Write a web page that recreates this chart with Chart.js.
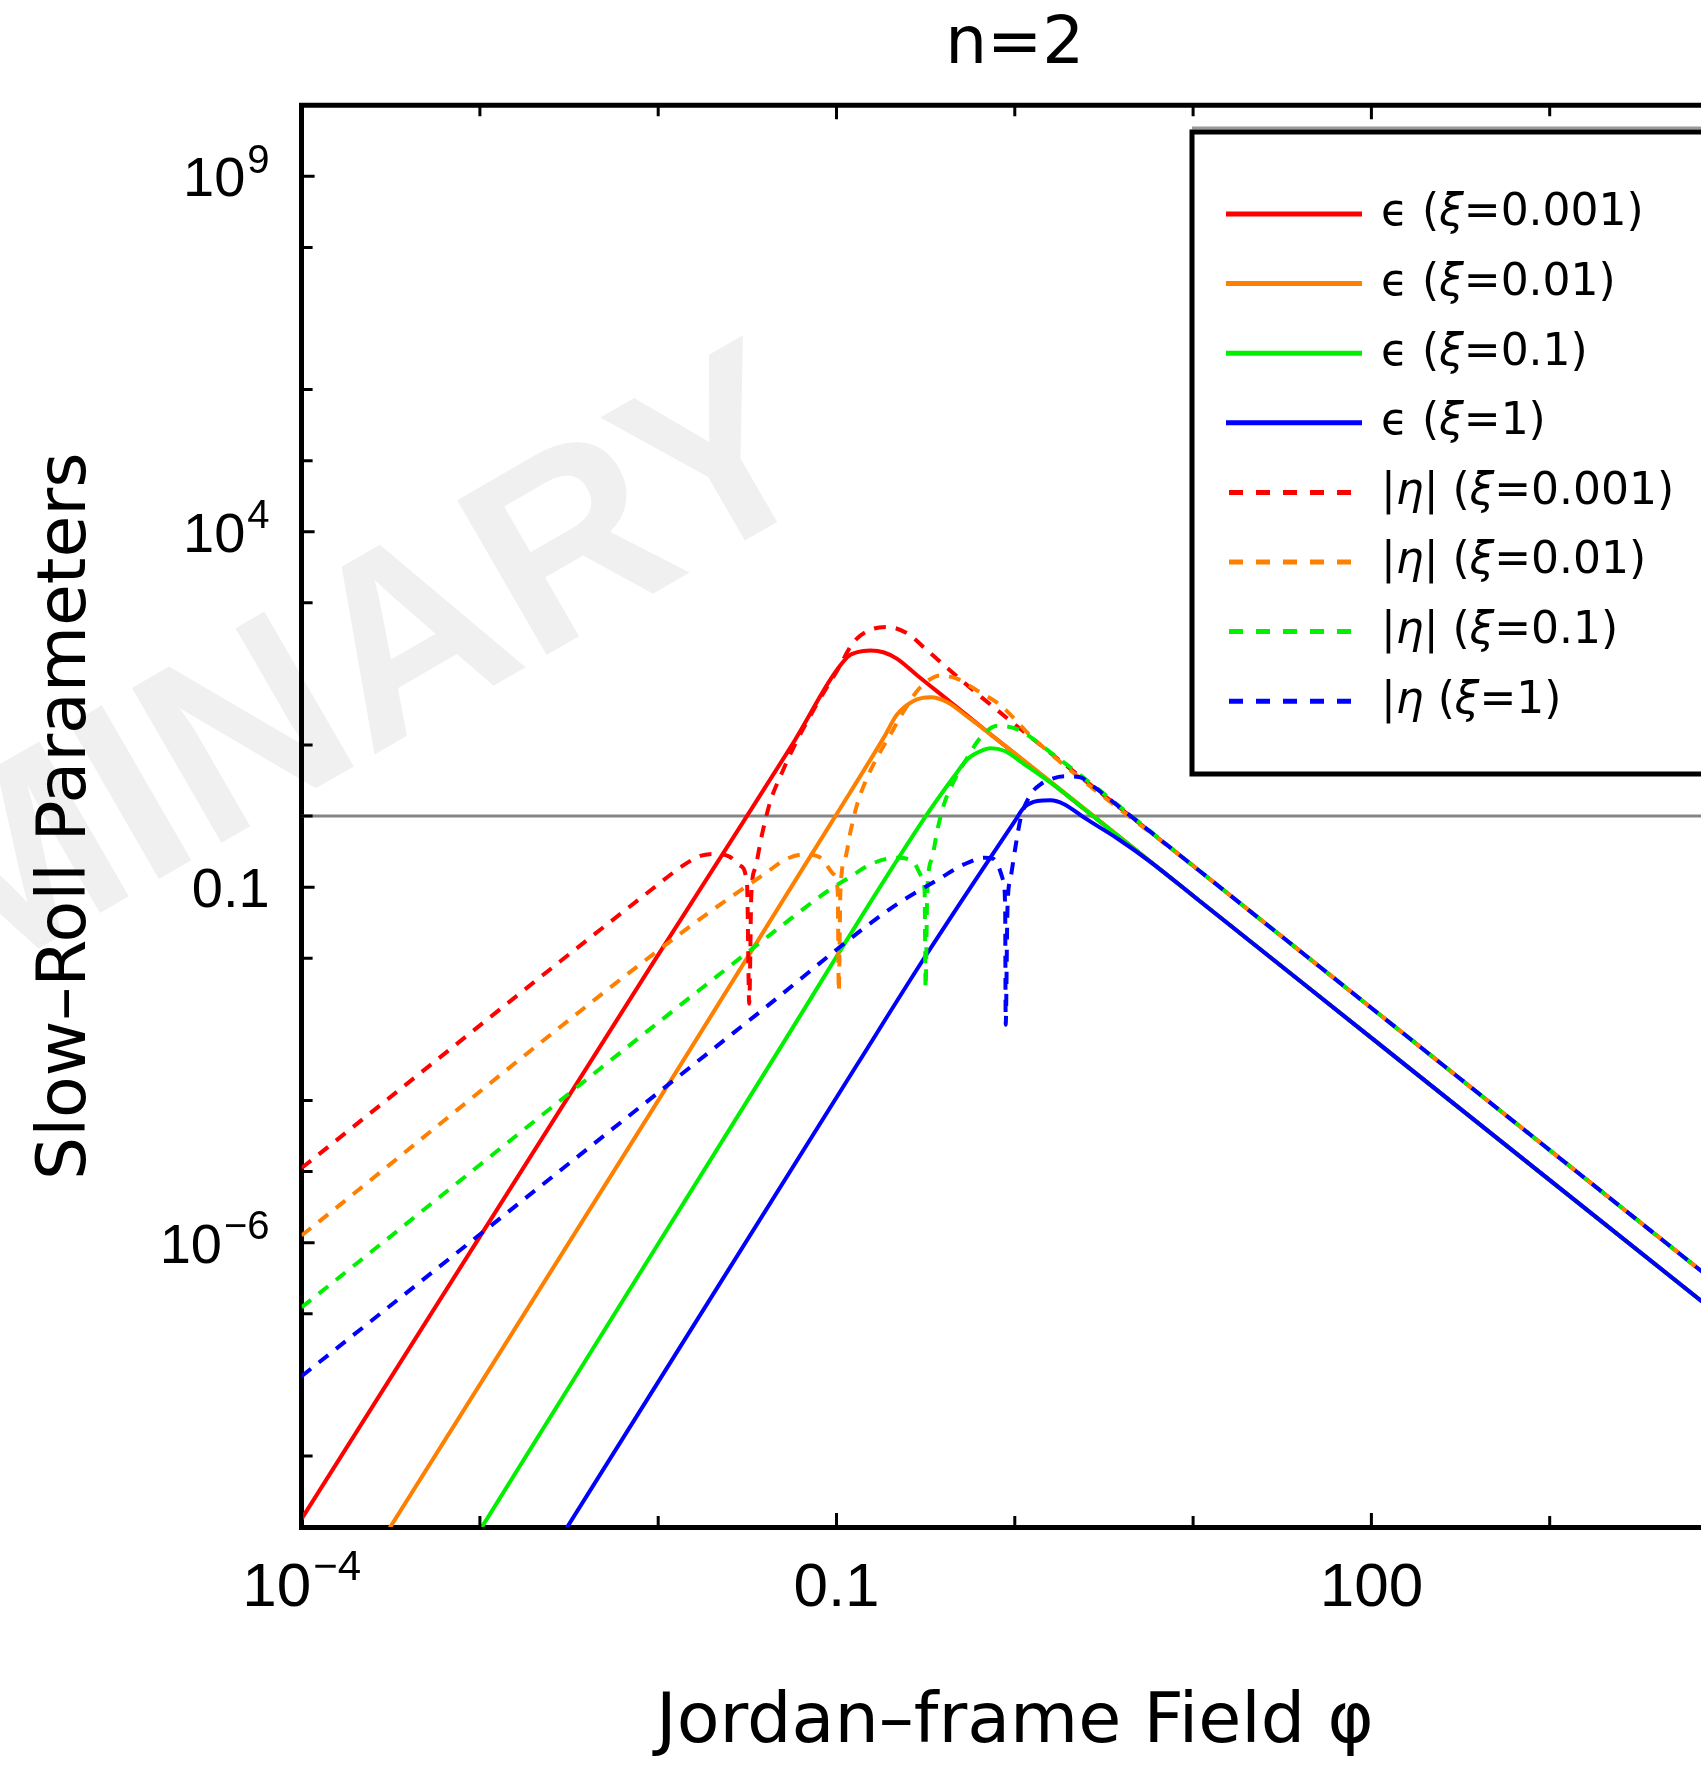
<!DOCTYPE html>
<html><head><meta charset="utf-8">
<style>
html,body{margin:0;padding:0;background:#fff;overflow:hidden;}
#wrap{width:1701px;height:1768px;overflow:hidden;position:relative;background:#fff;}
canvas{display:block;}
</style>
<script src="https://cdn.jsdelivr.net/npm/chart.js@4"></script>
</head><body><div id="wrap"><canvas id="c" width="1740" height="1768" style="width:1740px;height:1768px"></canvas></div>
<script>
// ---------------- data ----------------
// epsilon (solid)
const epsXi0001 = [[1e-4,1.3e-10],[0.0090,7.4e-3],[0.0308,0.92],[0.0551,9.2],[0.115,172],[0.131,202],[0.155,213],[0.185,200],[0.219,163],[0.284,95],[0.437,40],[0.71,15],[10,0.0759],[100,7.59e-4],[1000,7.59e-6],[1e4,7.59e-8]];
const epsXi001  = [[3.0e-4,8.3e-11],[0.01387,3.7e-4],[0.0966,0.92],[0.1845,12.8],[0.219,27],[0.272,42],[0.337,47],[0.419,40],[0.542,25],[0.794,12],[10,0.0759],[100,7.59e-4],[1000,7.59e-6],[1e4,7.59e-8]];
const epsXi01   = [[9.8e-4,8.3e-11],[0.0426,3.3e-4],[0.31,0.92],[0.456,3.6],[0.542,6.3],[0.673,8.6],[0.733,9.0],[0.871,8.3],[1.127,5.4],[1.59,2.95],[2.51,1.2],[10,0.0759],[100,7.59e-4],[1000,7.59e-6],[1e4,7.59e-8]];
const epsXi1    = [[2.95e-3,8.3e-11],[0.1306,3.2e-4],[0.31,0.01],[1.0,0.85],[1.127,1.32],[1.34,1.63],[1.59,1.67],[1.89,1.47],[2.45,0.95],[3.78,0.48],[5.81,0.224],[10,0.0759],[100,7.59e-4],[1000,7.59e-6],[1e4,7.59e-8]];
// |eta| (dashed)
const etaXi0001 = [[1e-4,1.12e-5],[0.0090,0.089],[0.0141,0.209],[0.0172,0.275],[0.0209,0.295],[0.0251,0.269],[0.0289,0.20],[0.0315,0.11],[0.0324,2.3e-3],[0.0333,0.079],[0.0351,0.19],[0.0382,0.55],[0.0426,1.62],[0.0495,4.1],[0.0575,9.3],[0.0778,38],[0.101,112],[0.125,282],[0.155,417],[0.193,457],[0.249,372],[0.323,214],[0.437,110],[0.631,50],[10,0.2],[100,2.0e-3],[1000,2.0e-5],[1e4,2.0e-7]];
const etaXi001  = [[1e-4,1.26e-6],[0.0151,0.0282],[0.0391,0.151],[0.0528,0.251],[0.0655,0.288],[0.0794,0.269],[0.0849,0.233],[0.0966,0.151],[0.1016,0.088],[0.103,3.4e-3],[0.1052,0.088],[0.1122,0.259],[0.12,0.617],[0.1306,1.47],[0.1486,3.48],[0.169,6.67],[0.201,14.2],[0.239,30.3],[0.284,58],[0.337,85],[0.384,95],[0.477,85],[0.617,58],[0.834,36],[1.26,12.6],[10,0.2],[100,2.0e-3],[1000,2.0e-5],[1e4,2.0e-7]];
const etaXi01   = [[1e-4,1.23e-7],[0.0506,0.0302],[0.0885,0.087],[0.12,0.141],[0.155,0.209],[0.201,0.257],[0.219,0.26],[0.272,0.22],[0.303,0.135],[0.312,0.088],[0.316,3.8e-3],[0.323,0.088],[0.344,0.259],[0.367,0.617],[0.401,1.47],[0.456,3.13],[0.542,6.67],[0.644,12.8],[0.8,18.6],[1.035,16.6],[1.585,7.9],[10,0.2],[100,2.0e-3],[1000,2.0e-5],[1e4,2.0e-7]];
const etaXi1    = [[1e-4,1.32e-8],[0.0374,1.78e-3],[0.201,0.050],[0.384,0.135],[0.519,0.209],[0.673,0.259],[0.759,0.25],[0.8,0.209],[0.863,0.122],[0.883,0.0513],[0.889,1.16e-3],[0.910,0.0513],[0.948,0.135],[1.014,0.40],[1.081,0.95],[1.23,2.03],[1.40,2.81],[1.59,3.30],[1.905,3.63],[2.29,3.55],[2.82,2.51],[3.98,1.26],[10,0.2],[100,2.0e-3],[1000,2.0e-5],[1e4,2.0e-7]];
// end-of-inflation reference line
const unitLine = [[1e-4,1],[1e4,1]];

const seriesLabels = ['ϵ (ξ=0.001)','ϵ (ξ=0.01)','ϵ (ξ=0.1)','ϵ (ξ=1)','|η| (ξ=0.001)','|η| (ξ=0.01)','|η| (ξ=0.1)','|η (ξ=1)'];

// ticks
const xTickValues = [1e-4,1e-3,1e-2,0.1,1,10,100,1e3,1e4];
const xTickLabels = [[1e-4,'10','−4'],[0.1,'0.1',''],[100,'100','']];
const yTickValues = [1e10,1e9,1e8,1e6,1e5,1e4,1e3,10,1,0.1,1e-2,1e-4,1e-5,1e-6,1e-7,1e-9,1e-10];
const yTickLabels = [[1e9,'10','9'],[1e4,'10','4'],[0.1,'0.1',''],[1e-6,'10','−6']];

// ---------------- styling ----------------
const RED='#ff0000', ORANGE='#ff8000', GREEN='#00f000', BLUE='#0000ff';
const pts = a => a.map(p => ({x:p[0], y:p[1]}));
function ds(label, arr, color, dashed, layer){
  return {label, data:pts(arr), borderColor:color, backgroundColor:color, borderWidth:4,
    borderDash: dashed ? [12,10] : [], showLine:true, pointRadius:0, fill:false,
    cubicInterpolationMode:'monotone', inLegend:true, dashedLegend:dashed, order:layer};
}
// lower "order" is painted on top: later legend entries lie over earlier ones
const datasets = [
  {label:'ϵ = 1', data:pts(unitLine), borderColor:'#858585', borderWidth:3, showLine:true, pointRadius:0, inLegend:false, order:20},
  ds(seriesLabels[0], epsXi0001, RED, false, 8),
  ds(seriesLabels[1], epsXi001, ORANGE, false, 7),
  ds(seriesLabels[2], epsXi01, GREEN, false, 6),
  ds(seriesLabels[3], epsXi1, BLUE, false, 5),
  ds(seriesLabels[4], etaXi0001, RED, true, 4),
  ds(seriesLabels[5], etaXi001, ORANGE, true, 3),
  ds(seriesLabels[6], etaXi01, GREEN, true, 2),
  ds(seriesLabels[7], etaXi1, BLUE, true, 1)
];

const watermark = {
  id:'watermark',
  beforeDraw(chart){
    const ctx = chart.ctx;
    ctx.save();
    ctx.translate(836, 488);
    ctx.rotate(-30*Math.PI/180);
    ctx.font = 'bold 260px "Liberation Sans", Arial, sans-serif';
    ctx.fillStyle = '#f0f0f0';
    ctx.textAlign = 'right';
    ctx.textBaseline = 'alphabetic';
    ctx.fillText('PRELIMINARY', 0, 0);
    ctx.restore();
  }
};

function drawPowerLabel(ctx, base, exp, x, y, align, baseSize, expSize){
  ctx.font = baseSize + 'px "Liberation Sans", Arial, sans-serif';
  const wb = ctx.measureText(base).width;
  ctx.font = expSize + 'px "Liberation Sans", Arial, sans-serif';
  const we = exp ? ctx.measureText(exp).width + 2 : 0;
  const total = wb + we;
  let x0 = align === 'right' ? x - total : (align === 'center' ? x - total/2 : x);
  const baseline = y + baseSize*0.716/2;
  ctx.textAlign = 'left'; ctx.textBaseline = 'alphabetic';
  ctx.font = baseSize + 'px "Liberation Sans", Arial, sans-serif';
  ctx.fillText(base, x0, baseline);
  if (exp){
    ctx.font = expSize + 'px "Liberation Sans", Arial, sans-serif';
    ctx.fillText(exp, x0 + wb + 2, baseline - baseSize*0.42);
  }
}

const frameTicks = {
  id:'frameTicks',
  afterDatasetsDraw(chart){
    const {ctx, chartArea:a, scales:{x, y}} = chart;
    ctx.save();
    ctx.strokeStyle = '#000';
    ctx.lineWidth = 5;
    ctx.beginPath();
    ctx.moveTo(a.left-2.5, a.top); ctx.lineTo(a.right+2.5, a.top);
    ctx.moveTo(a.right, a.top); ctx.lineTo(a.right, a.bottom);
    ctx.stroke();
    ctx.lineWidth = 3;
    ctx.beginPath();
    const majX = xTickLabels.map(t => t[0]);
    for (const v of xTickValues){
      const px = x.getPixelForValue(v);
      const len = majX.includes(v) ? 14 : 11;
      ctx.moveTo(px, a.bottom); ctx.lineTo(px, a.bottom - len);
      ctx.moveTo(px, a.top); ctx.lineTo(px, a.top + len);
    }
    const majY = yTickLabels.map(t => t[0]);
    for (const v of yTickValues){
      const py = y.getPixelForValue(v);
      const len = majY.includes(v) ? 13 : 11;
      ctx.moveTo(a.left, py); ctx.lineTo(a.left + len, py);
      ctx.moveTo(a.right, py); ctx.lineTo(a.right - len, py);
    }
    ctx.stroke();
    ctx.fillStyle = '#000';
    for (const [v, b, e] of yTickLabels){
      drawPowerLabel(ctx, b, e, a.left - 32, y.getPixelForValue(v), 'right', 56, 40);
    }
    for (const [v, b, e] of xTickLabels){
      drawPowerLabel(ctx, b, e, x.getPixelForValue(v), 1584, 'center', 62, 42);
    }
    ctx.restore();
  }
};

const legendBox = {
  id:'legendBox',
  afterDatasetsDraw(chart){
    const ctx = chart.ctx;
    const x0 = 1192, y0 = 132, x1 = 1718, y1 = 774;
    ctx.save();
    ctx.fillStyle = '#fff';
    ctx.fillRect(x0, y0, x1-x0, y1-y0);
    ctx.strokeStyle = '#9a9a9a'; ctx.lineWidth = 3;
    ctx.beginPath(); ctx.moveTo(x0, y0-4); ctx.lineTo(x1, y0-4); ctx.stroke();
    ctx.strokeStyle = '#000'; ctx.lineWidth = 5;
    ctx.strokeRect(x0, y0, x1-x0, y1-y0);
    const items = chart.data.datasets.filter(d => d.inLegend);
    items.forEach((d, i) => {
      const cy = 214 + i*69.6;
      ctx.strokeStyle = d.borderColor;
      ctx.lineWidth = 5;
      ctx.setLineDash(d.dashedLegend ? [14,13] : []);
      ctx.beginPath();
      ctx.moveTo(d.dashedLegend ? 1229 : 1226, cy); ctx.lineTo(1362, cy); ctx.stroke();
      ctx.setLineDash([]);
      ctx.fillStyle = '#000';
      ctx.textBaseline = 'middle'; ctx.textAlign = 'left';
      let tx = 1381;
      for (const ch of d.label){
        const ital = (ch === 'η' || ch === 'ξ');
        ctx.font = (ital ? 'italic ' : '') + '44px "DejaVu Sans", sans-serif';
        ctx.fillText(ch, tx, cy);
        tx += ctx.measureText(ch).width;
      }
    });
    ctx.restore();
  }
};

new Chart(document.getElementById('c'), {
  type:'scatter',
  data:{datasets},
  options:{
    responsive:false, animation:false, devicePixelRatio:1,
    layout:{padding:{left:0, right:12, top:0, bottom:0}},
    plugins:{
      legend:{display:false}, tooltip:{enabled:false},
      title:{display:true, text:'n=2', fullSize:false, color:'#000',
        font:{family:'"DejaVu Sans", sans-serif', size:66, weight:'normal', lineHeight:1.2},
        padding:{top:6, bottom:20}}
    },
    scales:{
      x:{type:'logarithmic', position:'bottom', min:1e-4, max:1e4, z:1,
        border:{display:true, color:'#000', width:5},
        grid:{display:false, drawTicks:false},
        ticks:{display:false},
        title:{display:true, text:'Jordan–frame Field φ', color:'#000',
          font:{family:'"DejaVu Sans", sans-serif', size:70, weight:'normal', lineHeight:1.2},
          padding:{top:155, bottom:2}}},
      y:{type:'logarithmic', position:'left', min:1e-10, max:1e10, z:1,
        border:{display:true, color:'#000', width:5},
        grid:{display:false, drawTicks:false},
        ticks:{display:false},
        title:{display:true, text:'Slow–Roll Parameters', color:'#000',
          font:{family:'"DejaVu Sans", sans-serif', size:68, weight:'normal', lineHeight:1.2},
          padding:{top:27, bottom:193}}}
    }
  },
  plugins:[watermark, frameTicks, legendBox]
});
</script></body></html>
